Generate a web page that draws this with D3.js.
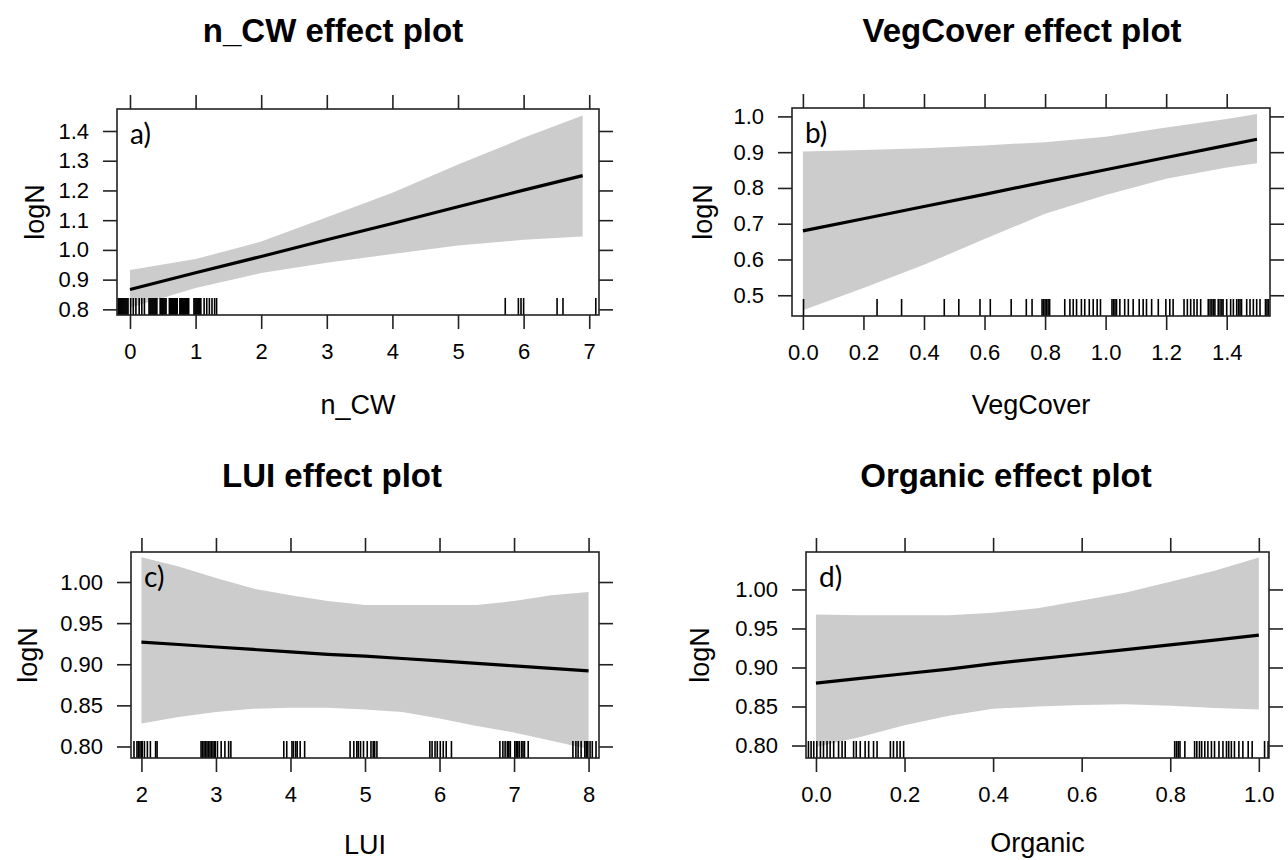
<!DOCTYPE html>
<html><head><meta charset="utf-8">
<script src="https://cdn.jsdelivr.net/npm/d3@7"></script>
<style>body{margin:0;background:#fff} svg{display:block}</style>
</head><body>
<svg id="chart" width="1288" height="860"></svg>
<script>
// ---------------- DATA ----------------
// a) n_CW
const nCW_x     = [0, 1, 2, 3, 4, 5, 6, 6.9];
const nCW_fit   = [0.867, 0.923, 0.978, 1.034, 1.089, 1.145, 1.201, 1.250];
const nCW_lower = [0.805, 0.872, 0.922, 0.957, 0.986, 1.015, 1.034, 1.045];
const nCW_upper = [0.932, 0.969, 1.028, 1.110, 1.192, 1.287, 1.377, 1.452];
const nCW_rug   = [-0.18,-0.165,-0.15,-0.135,-0.12,-0.105,-0.09,-0.075,-0.06,-0.045,-0.03,
  0.01,0.05,0.09,0.14,0.18,0.22,
  0.29,0.305,0.32,0.335,0.35,0.365,0.38,0.395,0.41,
  0.46,0.475,0.49,0.505,0.52,0.535,0.55,
  0.60,0.615,0.63,0.645,0.66,0.675,0.69,0.705,0.72,
  0.76,0.775,0.79,0.805,0.82,0.835,0.85,0.865,0.88,0.895,
  0.975,0.99,1.005,1.02,1.035,1.05,1.065,1.08,
  1.13,1.17,1.21,1.25,1.29,1.32,
  5.72,5.92,5.96,6.0,6.51,6.6,7.1];
const nCW_xticks = [0,1,2,3,4,5,6,7];
const nCW_yticks = [0.8,0.9,1.0,1.1,1.2,1.3,1.4];

// b) VegCover
const veg_x     = [0, 0.2, 0.4, 0.6, 0.8, 1.0, 1.2, 1.4, 1.5];
const veg_fit   = [0.680, 0.714, 0.748, 0.782, 0.817, 0.851, 0.885, 0.919, 0.936];
const veg_lower = [0.458, 0.520, 0.585, 0.657, 0.728, 0.780, 0.826, 0.857, 0.869];
const veg_upper = [0.902, 0.906, 0.911, 0.919, 0.928, 0.943, 0.969, 0.993, 1.007];
const veg_rug   = [0.002,0.245,0.326,0.467,0.515,0.585,0.619,0.688,0.738,0.757,
  0.790,0.795,0.800,0.805,0.810,0.815,
  0.865,0.882,0.893,0.904,0.920,0.931,0.946,0.959,0.972,0.983,
  1.021,1.026,1.031,1.036,1.047,1.063,1.075,1.091,1.111,1.124,1.135,1.152,1.174,1.199,1.212,1.223,
  1.259,1.270,1.281,1.292,1.302,1.314,1.339,1.345,1.351,1.356,1.361,1.372,1.378,1.384,1.388,
  1.400,1.413,1.422,1.433,1.439,1.444,1.449,1.466,1.477,1.488,1.499,1.510,1.528,1.533,1.538];
const veg_xticks = [0,0.2,0.4,0.6,0.8,1.0,1.2,1.4];
const veg_yticks = [0.5,0.6,0.7,0.8,0.9,1.0];

// c) LUI
const lui_x     = [2, 2.5, 3, 3.5, 4, 4.5, 5, 5.5, 6, 6.5, 7, 7.5, 8];
const lui_fit   = [0.927, 0.924, 0.921, 0.918, 0.915, 0.912, 0.910, 0.907, 0.904, 0.901, 0.898, 0.895, 0.892];
const lui_lower = [0.828, 0.836, 0.842, 0.846, 0.847, 0.847, 0.845, 0.842, 0.834, 0.825, 0.817, 0.807, 0.797];
const lui_upper = [1.030, 1.019, 1.005, 0.992, 0.984, 0.977, 0.972, 0.972, 0.972, 0.972, 0.977, 0.984, 0.988];
const lui_rug   = [1.90,1.94,1.96,1.98,2.0,2.01,2.04,2.08,2.12,2.19,2.21,
  2.80,2.82,2.84,2.86,2.88,2.90,2.92,2.94,2.96,2.98,2.99,3.02,3.07,3.12,3.17,3.20,
  3.91,3.95,4.02,4.04,4.07,4.09,4.13,4.19,
  4.80,4.85,4.89,4.91,4.94,4.98,5.03,5.08,5.11,5.13,5.16,
  5.87,5.90,5.94,5.97,6.01,6.05,6.09,6.16,
  6.81,6.85,6.88,6.91,6.93,6.95,7.01,7.03,7.05,7.07,7.10,7.12,7.14,7.19,
  7.79,7.83,7.86,7.90,7.95,7.97,7.99,8.02,8.05,8.10];
const lui_xticks = [2,3,4,5,6,7,8];
const lui_yticks = [0.80,0.85,0.90,0.95,1.00];

// d) Organic
const org_x     = [0, 0.1, 0.2, 0.3, 0.4, 0.5, 0.6, 0.7, 0.8, 0.9, 1.0];
const org_fit   = [0.880, 0.886, 0.892, 0.898, 0.905, 0.911, 0.917, 0.923, 0.929, 0.935, 0.9415];
const org_lower = [0.798, 0.811, 0.826, 0.838, 0.847, 0.850, 0.852, 0.853, 0.851, 0.848, 0.846];
const org_upper = [0.968, 0.967, 0.967, 0.967, 0.970, 0.976, 0.986, 0.996, 1.010, 1.024, 1.041];
const org_rug   = [-0.017,-0.011,-0.005,0.002,0.010,0.017,0.025,0.032,0.040,0.051,0.059,0.066,
  0.085,0.091,0.100,0.111,0.119,0.130,0.138,0.168,0.175,0.183,0.190,0.198,
  0.810,0.814,0.818,0.822,0.833,0.855,0.860,0.866,0.871,0.878,0.885,0.893,0.900,0.910,0.919,
  0.927,0.932,0.938,0.945,0.955,0.964,0.976,0.985,1.013,1.021];
const org_xticks = [0,0.2,0.4,0.6,0.8,1.0];
const org_yticks = [0.80,0.85,0.90,0.95,1.00];

// ---------------- LAYOUT ----------------
const panels = [
  {title:"n_CW effect plot", xlab:"n_CW", tag:"a)",
   x:nCW_x, fit:nCW_fit, lo:nCW_lower, hi:nCW_upper, rug:nCW_rug, xt:nCW_xticks, yt:nCW_yticks,
   xf:d3.format("d"), yf:d3.format(".1f"),
   xd:[-0.198,7.149], yd:[0.781,1.474], L:117, R:599, T:109, B:315,
   titleX:333, titleY:42, xlabY:414, ylabX:44},
  {title:"VegCover effect plot", xlab:"VegCover", tag:"b)",
   x:veg_x, fit:veg_fit, lo:veg_lower, hi:veg_upper, rug:veg_rug, xt:veg_xticks, yt:veg_yticks,
   xf:d3.format(".1f"), yf:d3.format(".1f"),
   xd:[-0.036,1.543], yd:[0.442,1.0235], L:792, R:1270, T:108, B:316,
   titleX:1022, titleY:42, xlabY:414, ylabX:712},
  {title:"LUI effect plot", xlab:"LUI", tag:"c)",
   x:lui_x, fit:lui_fit, lo:lui_lower, hi:lui_upper, rug:lui_rug, xt:lui_xticks, yt:lui_yticks,
   xf:d3.format("d"), yf:d3.format(".2f"),
   xd:[1.86,8.14], yd:[0.786,1.0365], L:131, R:599, T:552, B:758,
   titleX:332, titleY:487, xlabY:854, ylabX:37},
  {title:"Organic effect plot", xlab:"Organic", tag:"d)",
   x:org_x, fit:org_fit, lo:org_lower, hi:org_upper, rug:org_rug, xt:org_xticks, yt:org_yticks,
   xf:d3.format(".1f"), yf:d3.format(".2f"),
   xd:[-0.0225,1.023], yd:[0.784,1.048], L:806, R:1269, T:552, B:758,
   titleX:1006, titleY:487, xlabY:852, ylabX:709}
];

const svg = d3.select("#chart");
const TICK = 14;
const FONT = "'Liberation Sans', Arial, sans-serif";

panels.forEach((p, i) => {
  const g = svg.append("g");
  const x = d3.scaleLinear().domain(p.xd).range([p.L, p.R]);
  const y = d3.scaleLinear().domain(p.yd).range([p.B, p.T]);
  const id = "clip" + i;
  svg.append("clipPath").attr("id", id).append("rect")
     .attr("x", p.L).attr("y", p.T).attr("width", p.R - p.L).attr("height", p.B - p.T);

  const pts = p.x.map((v, k) => ({x: v, f: p.fit[k], lo: p.lo[k], hi: p.hi[k]}));
  const inner = g.append("g").attr("clip-path", `url(#${id})`);
  inner.append("path").datum(pts)
    .attr("d", d3.area().x(d => x(d.x)).y0(d => y(d.lo)).y1(d => y(d.hi)))
    .attr("fill", "#cccccc");
  inner.append("path").datum(pts)
    .attr("d", d3.line().x(d => x(d.x)).y(d => y(d.f)))
    .attr("fill", "none").attr("stroke", "#000").attr("stroke-width", 3.2);

  // rug
  g.append("g").selectAll("line").data(p.rug).join("line")
    .attr("x1", d => x(d)).attr("x2", d => x(d))
    .attr("y1", p.B).attr("y2", p.B - 17)
    .attr("stroke", "#000").attr("stroke-width", 1.6);

  // frame
  g.append("rect").attr("x", p.L).attr("y", p.T)
    .attr("width", p.R - p.L).attr("height", p.B - p.T)
    .attr("fill", "none").attr("stroke", "#222").attr("stroke-width", 1.6);

  const style = sel => {
    sel.select(".domain").remove();
    sel.selectAll(".tick line").attr("stroke", "#222").attr("stroke-width", 1.6);
    sel.selectAll(".tick text").attr("fill", "#000").style("font-family", FONT).style("font-size", "22px");
  };
  g.append("g").attr("transform", `translate(0,${p.B})`)
    .call(d3.axisBottom(x).tickValues(p.xt).tickFormat(p.xf).tickSize(TICK).tickPadding(14)).call(style);
  g.append("g").attr("transform", `translate(0,${p.T})`)
    .call(d3.axisTop(x).tickValues(p.xt).tickFormat("").tickSize(TICK)).call(style);
  g.append("g").attr("transform", `translate(${p.L},0)`)
    .call(d3.axisLeft(y).tickValues(p.yt).tickFormat(p.yf).tickSize(TICK).tickPadding(14)).call(style);
  g.append("g").attr("transform", `translate(${p.R},0)`)
    .call(d3.axisRight(y).tickValues(p.yt).tickFormat("").tickSize(TICK)).call(style);

  // tag
  g.append("text").attr("x", p.L + 13).attr("y", p.T + 35)
    .style("font-family", "Lato, 'Open Sans', sans-serif").style("font-size", "28px")
    .text(p.tag);

  // titles
  g.append("text").attr("x", p.titleX).attr("y", p.titleY).attr("text-anchor", "middle")
    .style("font-family", FONT).style("font-weight", "bold").style("font-size", "33px")
    .text(p.title);
  g.append("text").attr("x", (p.L + p.R) / 2).attr("y", p.xlabY).attr("text-anchor", "middle")
    .style("font-family", FONT).style("font-size", "27px").text(p.xlab);
  g.append("text").attr("transform", `translate(${p.ylabX},${(p.T + p.B) / 2}) rotate(-90)`)
    .attr("text-anchor", "middle")
    .style("font-family", FONT).style("font-size", "27px").text("logN");
});
</script>
</body></html>
